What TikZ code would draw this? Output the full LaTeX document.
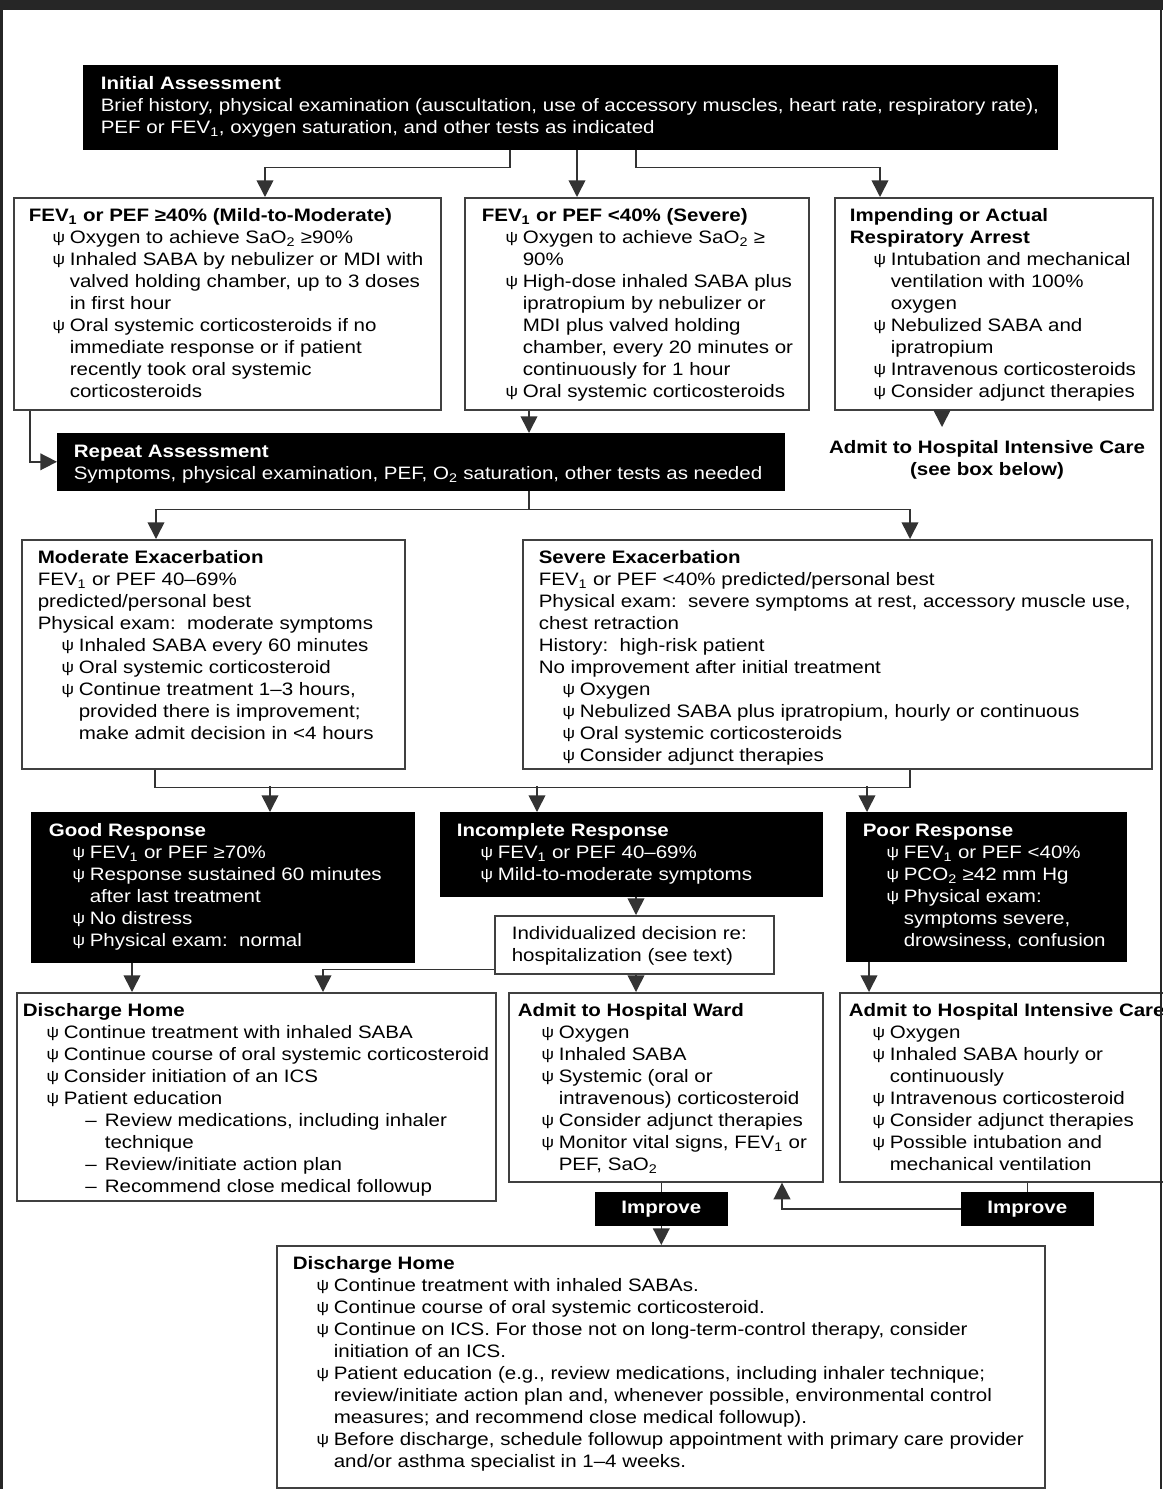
\documentclass[tikz,border=0pt]{standalone}
\usepackage{fontspec}
\setmainfont{Liberation Sans}[FakeStretch=1.14]
\usetikzlibrary{arrows.meta}

\newlength\pxu
\setlength\pxu{0.75pt}
% bullet, items and box contents
\newcommand{\bul}{\raisebox{0.8pt}{\fontsize{11.5pt}{11.5pt}\selectfont ψ}}
\newcommand{\itm}[1]{{\advance\leftskip 30.75pt\noindent\llap{\bul\hspace{3.5pt}}#1\par}}
\newcommand{\subitm}[1]{{\advance\leftskip 61.5pt\noindent\llap{--\hspace{6pt}}#1\par}}
\newcommand{\hd}[1]{\noindent\rule{0pt}{18pt}{\bfseries #1}\par}
\newcommand{\pane}[4]{\parbox[t][#2\pxu][t]{#1\pxu}{\raggedright\leftskip=#3\pxu #4}}
\newcommand{\fev}{FEV\textsubscript{1}}

\tikzset{
  wbox/.style={draw=black!75, line width=1.2pt, fill=white, inner sep=0pt,
    anchor=north west, font=\fontsize{13.5pt}{16.5pt}\selectfont},
  bbox/.style={wbox, draw=black, fill=black, text=white},
  link/.style={draw=black!80, line width=1.2pt},
  flow/.style={link, -{Triangle[width=12.5pt,length=12.5pt]}}
}

\begin{document}
\begin{tikzpicture}[x=0.75pt, y=-0.75pt]
  \useasboundingbox (0,0) rectangle (1163,1489);

  % Initial assessment
  \node[bbox] (init) at (83,65) {\pane{973}{83}{17}{%
    \hd{Initial Assessment}
    \noindent Brief history, physical examination (auscultation, use of accessory muscles, heart rate, respiratory rate),\\
    PEF or \fev, oxygen saturation, and other tests as indicated\par}};

  % First row
  \node[wbox] (mildA) at (13,197) {\pane{427}{212}{15}{%
    \hd{\fev\ or PEF ≥40\% (Mild-to-Moderate)}
    \itm{Oxygen to achieve SaO\textsubscript{2} ≥90\%}
    \itm{Inhaled SABA by nebulizer or MDI with\\ valved holding chamber, up to 3 doses\\ in first hour}
    \itm{Oral systemic corticosteroids if no\\ immediate response or if patient\\ recently took oral systemic\\ corticosteroids}}};
  \node[wbox] (sevB) at (464,197) {\pane{344}{212}{17}{%
    \hd{\fev\ or PEF <40\% (Severe)}
    \itm{Oxygen to achieve SaO\textsubscript{2} ≥\\ 90\%}
    \itm{High-dose inhaled SABA plus\\ ipratropium by nebulizer or\\ MDI plus valved holding\\ chamber, every 20 minutes or\\ continuously for 1 hour}
    \itm{Oral systemic corticosteroids}}};
  \node[wbox] (arrC) at (834,197) {\pane{318}{212}{15}{%
    \hd{Impending or Actual\\ Respiratory Arrest}
    \itm{Intubation and mechanical\\ ventilation with 100\%\\ oxygen}
    \itm{Nebulized SABA and\\ ipratropium}
    \itm{Intravenous corticosteroids}
    \itm{Consider adjunct therapies}}};
  \node[anchor=north, align=center, inner xsep=0pt, inner ysep=10pt,
    font=\fontsize{13.5pt}{16.5pt}\selectfont\bfseries] (icuNote) at (987,427)
    {Admit to Hospital Intensive Care\\ (see box below)};

  % Repeat assessment
  \node[bbox] (repeat) at (57,433) {\pane{726}{56}{16}{%
    \hd{Repeat Assessment}
    \noindent Symptoms, physical examination, PEF, O\textsubscript{2} saturation, other tests as needed\par}};

  % Exacerbation boxes
  \node[wbox] (modEx) at (21,539) {\pane{383}{229}{16}{%
    \hd{Moderate Exacerbation}
    \noindent\fev\ or PEF 40--69\%\\ predicted/personal best\\
    Physical exam:\ \ moderate symptoms\par
    \itm{Inhaled SABA every 60 minutes}
    \itm{Oral systemic corticosteroid}
    \itm{Continue treatment 1--3 hours,\\ provided there is improvement;\\ make admit decision in <4 hours}}};
  \node[wbox] (sevEx) at (522,539) {\pane{629}{229}{16}{%
    \hd{Severe Exacerbation}
    \noindent\fev\ or PEF <40\% predicted/personal best\\
    Physical exam:\ \ severe symptoms at rest, accessory muscle use,\\ chest retraction\\
    History:\ \ high-risk patient\\
    No improvement after initial treatment\par
    \itm{Oxygen}
    \itm{Nebulized SABA plus ipratropium, hourly or continuous}
    \itm{Oral systemic corticosteroids}
    \itm{Consider adjunct therapies}}};

  % Responses
  \node[bbox] (goodR) at (31,812) {\pane{382}{149}{17}{%
    \hd{Good Response}
    \itm{\fev\ or PEF ≥70\%}
    \itm{Response sustained 60 minutes\\ after last treatment}
    \itm{No distress}
    \itm{Physical exam:\ \ normal}}};
  \node[bbox] (incR) at (440,812) {\pane{381}{83}{16}{%
    \hd{Incomplete Response}
    \itm{\fev\ or PEF 40--69\%}
    \itm{Mild-to-moderate symptoms}}};
  \node[bbox] (poorR) at (846,812) {\pane{279}{148}{16}{%
    \hd{Poor Response}
    \itm{\fev\ or PEF <40\%}
    \itm{PCO\textsubscript{2} ≥42 mm Hg}
    \itm{Physical exam:\\ symptoms severe,\\ drowsiness, confusion}}};
  \node[wbox] (indiv) at (494,915) {\pane{279}{58}{17}{%
    \noindent\rule{0pt}{18pt}Individualized decision re:\\ hospitalization (see text)\par}};

  % Outcomes
  \node[wbox] (dischL) at (16,992) {\pane{479}{208}{6}{%
    \hd{Discharge Home}
    \itm{Continue treatment with inhaled SABA}
    \itm{Continue course of oral systemic corticosteroid}
    \itm{Consider initiation of an ICS}
    \itm{Patient education}
    \subitm{Review medications, including inhaler\\ technique}
    \subitm{Review/initiate action plan}
    \subitm{Recommend close medical followup}}};
  \node[wbox] (ward) at (508,992) {\pane{314}{189}{9}{%
    \hd{Admit to Hospital Ward}
    \itm{Oxygen}
    \itm{Inhaled SABA}
    \itm{Systemic (oral or\\ intravenous) corticosteroid}
    \itm{Consider adjunct therapies}
    \itm{Monitor vital signs, \fev\ or\\ PEF, SaO\textsubscript{2}}}};
  \node[wbox] (icuB) at (839,992) {\pane{331}{189}{9}{%
    \hd{Admit to Hospital Intensive Care}
    \itm{Oxygen}
    \itm{Inhaled SABA hourly or\\ continuously}
    \itm{Intravenous corticosteroid}
    \itm{Consider adjunct therapies}
    \itm{Possible intubation and\\ mechanical ventilation}}};
  \node[bbox, minimum width=98.25pt, minimum height=24pt] (imp1) at (595,1192) {\bfseries Improve};
  \node[bbox, minimum width=98.25pt, minimum height=24pt] (imp2) at (961,1192) {\bfseries Improve};
  \node[wbox] (dischB) at (276,1245) {\pane{768}{242}{16}{%
    \hd{Discharge Home}
    \itm{Continue treatment with inhaled SABAs.}
    \itm{Continue course of oral systemic corticosteroid.}
    \itm{Continue on ICS. For those not on long-term-control therapy, consider\\ initiation of an ICS.}
    \itm{Patient education (e.g., review medications, including inhaler technique;\\ review/initiate action plan and, whenever possible, environmental control\\ measures; and recommend close medical followup).}
    \itm{Before discharge, schedule followup appointment with primary care provider\\ and/or asthma specialist in 1--4 weeks.}}};

  % Connectors
  \draw[flow] ([xshift=427\pxu]init.south west) -- ++(0,18) -| ([xshift=252\pxu]mildA.north west);
  \draw[flow] ([xshift=494\pxu]init.south west) -- ([xshift=113\pxu]sevB.north west);
  \draw[flow] ([xshift=553\pxu]init.south west) -- ++(0,18) -| ([xshift=46\pxu]arrC.north west);
  \draw[flow] ([xshift=17\pxu]mildA.south west) |- (repeat.west);
  \draw[flow] ([xshift=65\pxu]sevB.south west) -- ([xshift=472\pxu]repeat.north west);
  \coordinate (cDrop) at ([xshift=108\pxu]arrC.south west);
  \draw[flow] (cDrop) -- (cDrop |- icuNote.north);
  \draw[flow] ([xshift=472\pxu]repeat.south west) -- ++(0,19) -| ([xshift=135\pxu]modEx.north west);
  \draw[flow] ([xshift=472\pxu]repeat.south west) -- ++(0,19) -| ([xshift=388\pxu]sevEx.north west);
  \draw[link] ([xshift=134\pxu]modEx.south west) -- ++(0,18) -| ([xshift=388\pxu]sevEx.south west);
  \draw[flow] ([xshift=239\pxu,yshift=19.5pt]goodR.north west) -- ([xshift=239\pxu]goodR.north west);
  \draw[flow] ([xshift=97\pxu,yshift=19.5pt]incR.north west) -- ([xshift=97\pxu]incR.north west);
  \draw[flow] ([xshift=21\pxu,yshift=19.5pt]poorR.north west) -- ([xshift=21\pxu]poorR.north west);
  \draw[flow] ([xshift=196\pxu]incR.south west) -- ([xshift=142\pxu]indiv.north west);
  \draw[flow] ([xshift=142\pxu]indiv.south west) -- ([xshift=128\pxu]ward.north west);
  \draw[flow] ([yshift=3.75pt]indiv.south west) -| ([xshift=307\pxu]dischL.north west);
  \draw[flow] ([xshift=101\pxu]goodR.south west) -- ([xshift=116\pxu]dischL.north west);
  \draw[flow] ([xshift=23\pxu]poorR.south west) -- ([xshift=30\pxu]icuB.north west);
  \draw[link] (ward.south -| imp1.north) -- (imp1.north);
  \draw[flow] (imp1.south) -- (imp1.south |- dischB.north);
  \draw[link] (icuB.south -| imp2.north) -- (imp2.north);
  \draw[flow] (imp2.west) -| ([xshift=274\pxu]ward.south west);

  % Page frame
  \fill[black!85] (0,0) rectangle (1163,10);
  \fill[black!85] (0,0) rectangle (2.5,1489);
  \fill[black!85] (1159.5,0) rectangle (1162,1489);
\end{tikzpicture}
\end{document}
